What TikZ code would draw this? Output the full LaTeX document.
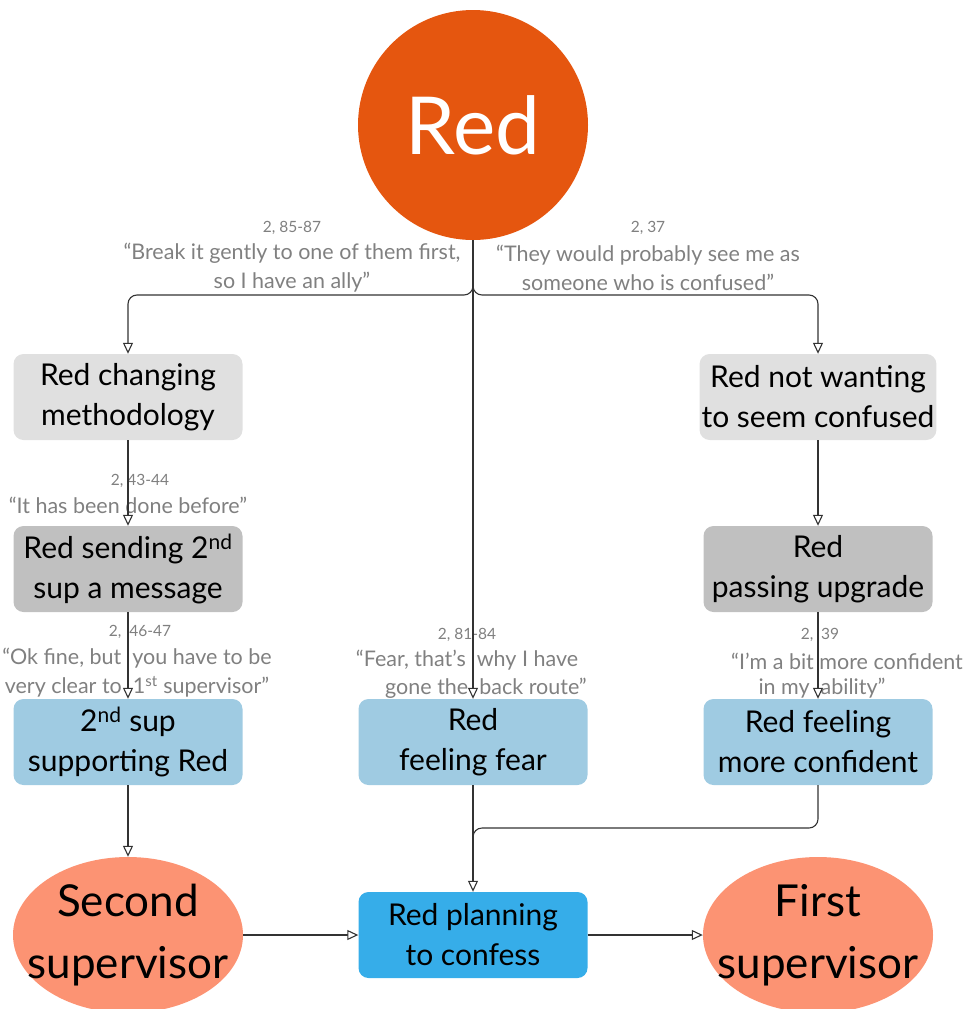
\documentclass[tikz,border=0pt]{standalone}
\usepackage{fontspec}
\setmainfont{Lato}
\usetikzlibrary{arrows.meta,shapes.geometric}
\definecolor{redcore}{HTML}{E5560F}
\definecolor{paleGray}{HTML}{E0E0E0}
\definecolor{midGray}{HTML}{C0C0C0}
\definecolor{paleBlue}{HTML}{9FCBE2}
\definecolor{brightBlue}{HTML}{36ADE9}
\definecolor{salmon}{HTML}{FC9373}
\definecolor{quoteGray}{HTML}{808080}
\definecolor{lineDark}{HTML}{333333}
\tikzset{
  box/.style={rectangle, rounded corners=10pt, minimum width=229pt, minimum height=86pt,
    inner sep=2pt, align=center, font=\fontsize{30}{40}\selectfont, text=black},
  greybox/.style={box, fill=paleGray},
  darkbox/.style={box, fill=midGray},
  bluebox/.style={box, fill=paleBlue},
  goalbox/.style={box, fill=brightBlue},
  person/.style={ellipse, fill=salmon, minimum width=230pt, minimum height=156pt,
    inner sep=0pt},
  personlabel/.style={align=center, inner sep=0pt, font=\fontsize{44}{62}\selectfont, text=black},
  refno/.style={text=quoteGray, font=\fontsize{15.5}{17}\selectfont, inner sep=0pt},
  quote/.style={text=quoteGray, font=\fontsize{21.5}{29}\selectfont, inner sep=0pt, align=center},
  flow/.style={draw=lineDark, line width=1.1pt,
    -{Triangle[open, length=11pt, width=10pt, fill=white]}},
  plainline/.style={draw=lineDark, line width=1.1pt}
}
\begin{document}
\begin{tikzpicture}[x=1pt, y=-1pt]
\useasboundingbox (0,0) rectangle (967,1009);
\clip (0,0) rectangle (967,1009);

% central figure
\node[circle, fill=redcore, minimum size=230pt, inner sep=0pt, text=white,
  font=\fontsize{80}{80}\selectfont] (red) at (473,125) {Red};

% left column
\node[greybox] (changing) at (128,397) {Red changing\\methodology};
\node[darkbox] (sending) at (128,569) {Red sending 2\textsuperscript{nd}\\sup a message};
\node[bluebox] (support) at (128,742) {2\textsuperscript{nd} sup\\supporting Red};
\node[person] (second) at (128,935) {};
\node[personlabel] (secondtext) at (second) {Second\\supervisor};

% middle column
\node[bluebox] (fear) at (473,742) {Red\\feeling fear};
\node[goalbox] (confess) at (473,935) {Red planning\\to confess};

% right column
\node[greybox] (notconf) at (818,397) {Red not wanting\\to seem confused};
\node[darkbox] (upgrade) at (818,569) {Red\\passing upgrade};
\node[bluebox] (confident) at (818,742) {Red feeling\\more confident};
\node[person] (first) at (818,935) {};
\node[personlabel] (firsttext) at (first) {First\\supervisor};

% quotations on the connectors
\node[refno] (q1n) at (292,228) {2, 85-87};
\node[quote] (q1) at (292,268) {“Break it gently to one of them first,\\so I have an ally”};
\node[refno] (q2n) at (648,228) {2, 37};
\node[quote] (q2) at (648,268) {“They would probably see me as\\someone who is confused”};
\node[refno] (q3n) at (140,481) {2, 43-44};
\node[quote] (q3) at (128,505) {“It has been done before”};
\node[refno] (q4n) at (140,632) {2,\ \ 46-47};
\node[quote] (q4) at (137,673) {“Ok fine, but\ \ you have to be\\very clear to\ \ 1\textsuperscript{st} supervisor”};
\node[refno] (q5n) at (467,635) {2, 81-84};
\node[quote] (q5a) at (467,660) {“Fear, that’s\ \ why I have};
\node[quote] (q5b) at (486,688) {gone the\ \ back route”};
\node[refno] (q6n) at (820,635) {2,\ \ 39};
\node[quote] (q6a) at (847,661) {“I’m a bit more confident};
\node[quote] (q6b) at (822,688) {in my\ \ ability”};

% branching below the central figure
\coordinate (split) at (473,295);
\coordinate (merge) at (473,828);
\path[flow, rounded corners=9pt] (red.south) -- (split) -| (changing.north);
\path[flow, rounded corners=9pt] (red.south) -- (split) -| (notconf.north);
\path[flow] (red.south) -- (fear.north);

% left chain
\path[flow] (changing.south) -- (sending.north);
\path[flow] (sending.south) -- (support.north);
\path[flow] (support.south) -- (second.north);

% right chain
\path[flow] (notconf.south) -- (upgrade.north);
\path[flow] (upgrade.south) -- (confident.north);
\path[plainline, rounded corners=9pt] (confident.south) |- (merge) -- ++(0,20);

% into and out of the plan
\path[flow] (fear.south) -- (confess.north);
\path[flow] (second.east) -- (confess.west);
\path[flow] (confess.east) -- (first.west);
\end{tikzpicture}
\end{document}
